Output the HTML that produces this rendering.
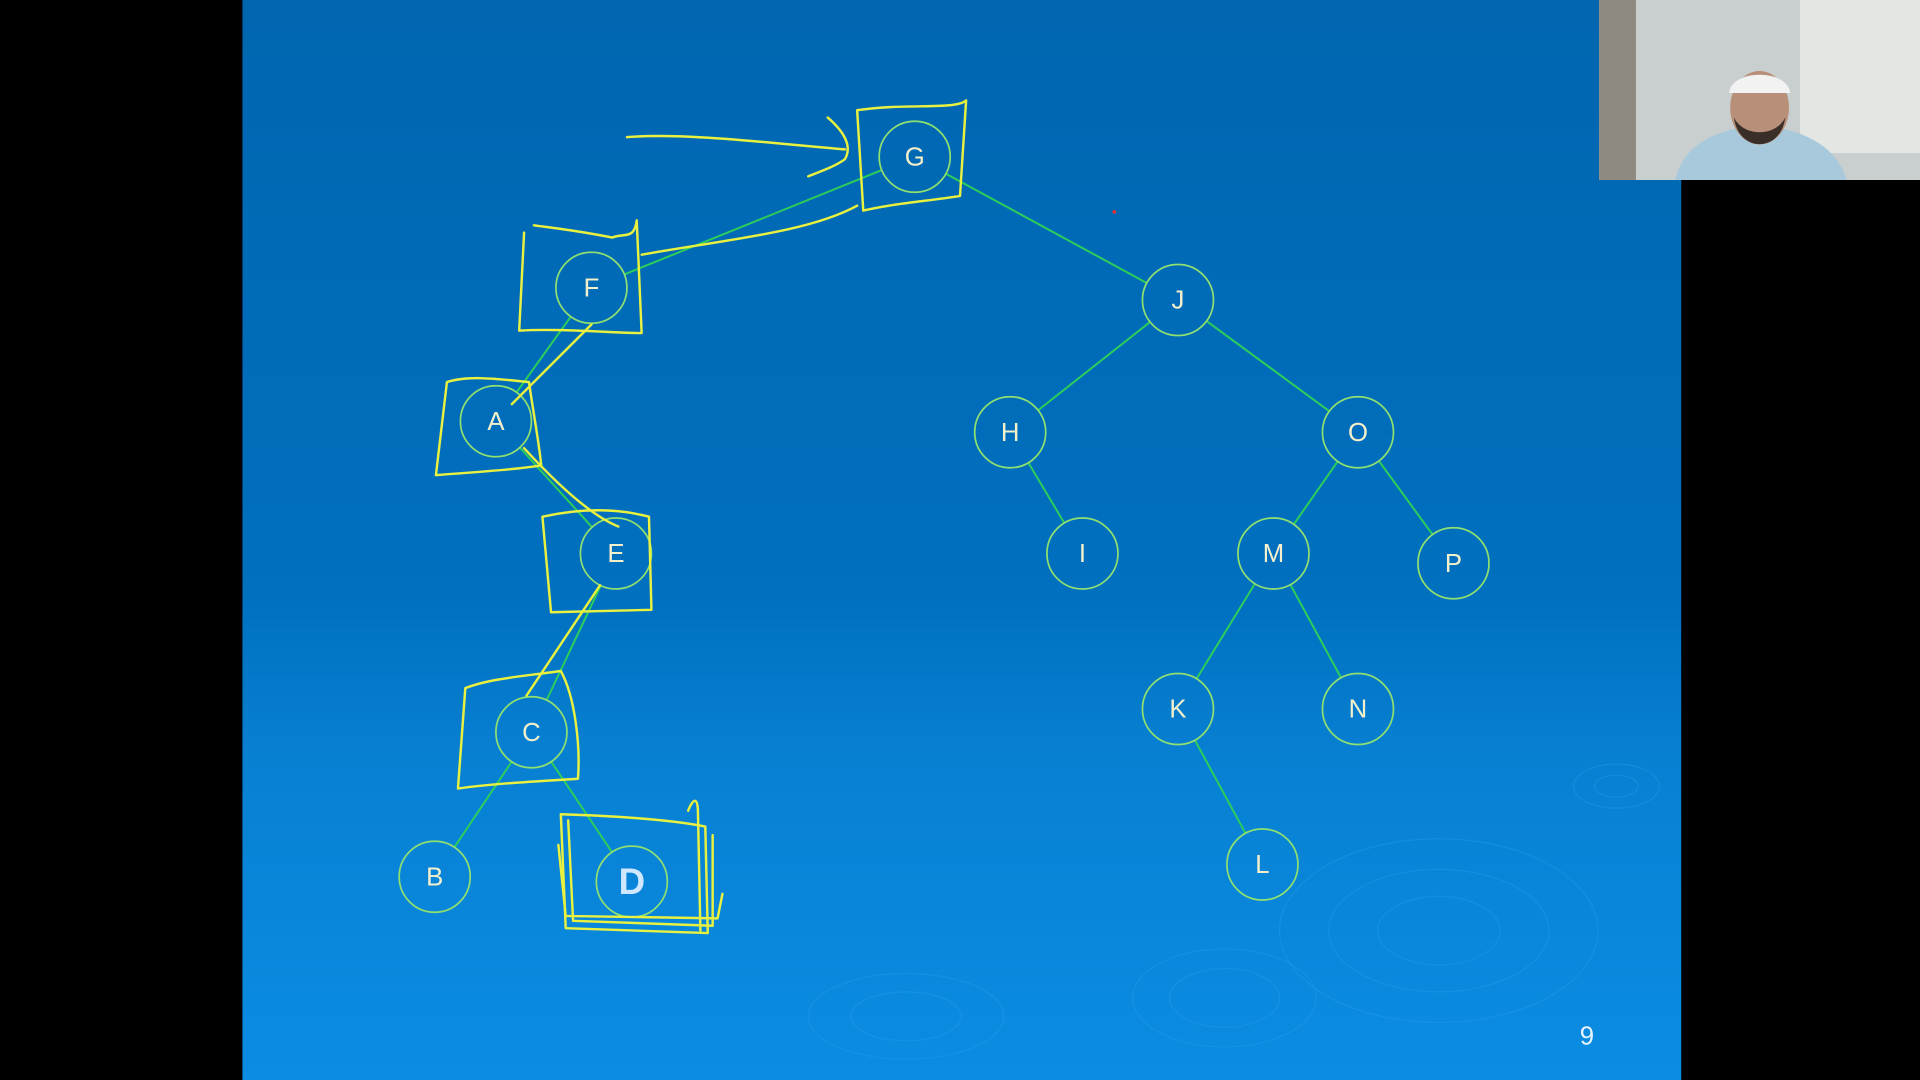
<!DOCTYPE html>
<html><head><meta charset="utf-8">
<style>
html,body{margin:0;padding:0;background:#000;width:1920px;height:1080px;overflow:hidden}
svg{display:block}
</style></head>
<body>
<svg id="s" width="1920" height="1080" viewBox="0 0 1568 882" preserveAspectRatio="none">
<defs>
<linearGradient id="bg" x1="0" y1="0" x2="0" y2="1">
<stop offset="0" stop-color="#0066b0"/>
<stop offset="0.55" stop-color="#0070bf"/>
<stop offset="0.7" stop-color="#0880d2"/>
<stop offset="1" stop-color="#0a8de3"/>
</linearGradient>
</defs>
<rect x="0" y="0" width="1568" height="882" fill="#000"/>
<rect x="198" y="0" width="1175" height="882" fill="url(#bg)"/>
<g fill="none" stroke="#2aa0ee" stroke-opacity="0.35">
<ellipse cx="1175" cy="760" rx="130" ry="75"/><ellipse cx="1175" cy="760" rx="90" ry="50"/><ellipse cx="1175" cy="760" rx="50" ry="28"/>
<ellipse cx="1000" cy="815" rx="75" ry="40"/><ellipse cx="1000" cy="815" rx="45" ry="24"/>
<ellipse cx="740" cy="830" rx="80" ry="35"/><ellipse cx="740" cy="830" rx="45" ry="20"/>
<ellipse cx="1320" cy="642" rx="35" ry="18"/><ellipse cx="1320" cy="642" rx="18" ry="9"/>
</g>
<g id="edges"></g>
<g id="nodes"></g>
<g fill="none" stroke="#e8f040" stroke-width="2" stroke-linecap="round" stroke-linejoin="round">
<path d="M512 112 C560 108 640 118 690 122 M676 96 C690 108 696 120 690 130 C682 136 670 140 660 144"/>
<path d="M700 90 L705 172 C730 166 760 164 784 160 L789 82 C780 90 740 84 700 90 Z"/>
<path d="M524 208 C590 196 660 190 700 168"/>
<path d="M428 190 L424 270 C460 268 500 272 524 272 L520 180 C518 196 510 190 500 194 C470 188 450 186 436 184"/>
<path d="M483 265 L418 330"/>
<path d="M365 312 L356 388 C380 386 420 384 442 380 C440 360 436 340 432 312 C410 310 384 306 365 312 Z"/>
<path d="M428 366 C450 390 480 420 505 430"/>
<path d="M443 422 L450 500 L532 498 L530 422 C500 414 470 416 443 422 Z"/>
<path d="M490 478 L430 568"/>
<path d="M380 562 L374 644 C400 640 440 638 472 636 C474 610 470 570 458 548 C430 552 400 554 380 562 Z"/>
<path d="M458 665 L462 758 L578 762 L576 675 C540 668 490 666 458 665 Z"/>
<path d="M464 670 L468 752 L582 756 L582 682 M456 690 L462 748 L586 750 L590 730 M562 662 C566 652 570 650 570 664 L572 760"/>
</g>
<text x="1296" y="853" font-family="Liberation Sans, sans-serif" font-size="21" fill="#e8f4ff" text-anchor="middle">9</text>
<circle cx="910" cy="173" r="1.5" fill="#e03030"/>
<g>
<rect x="1306" y="0" width="262" height="147" fill="#c9cfcf"/>
<rect x="1306" y="0" width="30" height="147" fill="#8f8a80"/>
<rect x="1470" y="0" width="98" height="125" fill="#e4e6e4"/>
<path d="M1368 147 C1375 118 1400 106 1436 102 C1475 106 1500 120 1508 147 Z" fill="#a8c8dc"/>
<ellipse cx="1437" cy="88" rx="24" ry="30" fill="#b88f78"/>
<path d="M1412 76 C1414 56 1460 56 1462 76 Z" fill="#f2f2f2"/>
<path d="M1416 96 C1420 125 1454 125 1458 96 C1450 112 1424 112 1416 96 Z" fill="#3a2e28"/>
</g>
</svg>
<script>
var nodeNames = ["G","F","J","A","H","O","E","I","M","P","C","K","N","B","D","L"];
var nodeX = [747,483,962,405,825,1109,503,884,1040,1187,434,962,1109,355,516,1031];
var nodeY = [128,235,245,344,353,353,452,452,452,460,598,579,579,716,720,706];
var edgeFrom = ["G","G","F","A","E","C","C","J","J","H","O","O","M","M","K"];
var edgeTo   = ["F","J","A","E","C","B","D","H","O","I","M","P","K","N","L"];
var NS = "http://www.w3.org/2000/svg";
var R = 29;
function idx(n){return nodeNames.indexOf(n);}
var eg = document.getElementById("edges");
for (var i=0;i<edgeFrom.length;i++){
  var a=idx(edgeFrom[i]), b=idx(edgeTo[i]);
  var dx=nodeX[b]-nodeX[a], dy=nodeY[b]-nodeY[a], d=Math.sqrt(dx*dx+dy*dy);
  var l=document.createElementNS(NS,"line");
  l.setAttribute("x1",nodeX[a]+dx/d*R); l.setAttribute("y1",nodeY[a]+dy/d*R);
  l.setAttribute("x2",nodeX[b]-dx/d*R); l.setAttribute("y2",nodeY[b]-dy/d*R);
  l.setAttribute("stroke","#2ccf5a"); l.setAttribute("stroke-width","1.6");
  
  
  eg.appendChild(l);
}
var ng = document.getElementById("nodes");
for (var j=0;j<nodeNames.length;j++){
  var g=document.createElementNS(NS,"g");
  
  
  var c=document.createElementNS(NS,"circle");
  c.setAttribute("cx",nodeX[j]); c.setAttribute("cy",nodeY[j]); c.setAttribute("r",R);
  c.setAttribute("fill","none"); c.setAttribute("stroke","#8fe070"); c.setAttribute("stroke-width","1.4");
  
  
  var t=document.createElementNS(NS,"text");
  var big = nodeNames[j]==="D";
  t.setAttribute("x",nodeX[j]); t.setAttribute("y",nodeY[j]+(big?10:7));
  t.setAttribute("text-anchor","middle");
  t.setAttribute("font-family","Liberation Sans, DejaVu Sans, sans-serif");
  t.setAttribute("font-size", big?"30":"21");
  if(big) t.setAttribute("font-weight","bold");
  t.setAttribute("fill", big?"#cfe8ff":"#f5f0cc");
  t.textContent=nodeNames[j];
  
  
  g.appendChild(c); g.appendChild(t); ng.appendChild(g);
}
</script>
</body></html>
